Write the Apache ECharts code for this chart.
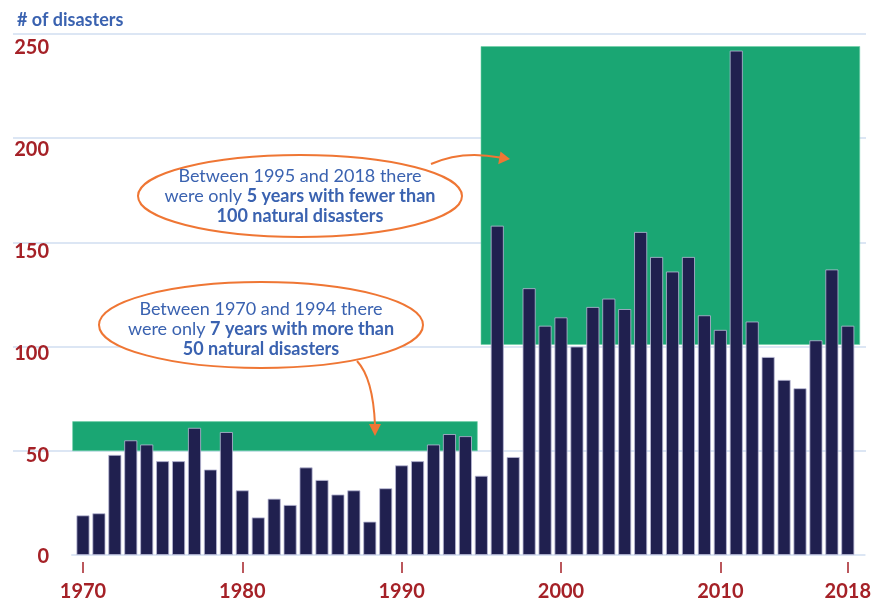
<!DOCTYPE html>
<html>
<head>
<meta charset="utf-8">
<script src="https://cdn.jsdelivr.net/npm/echarts@6/dist/echarts.min.js"></script>
<style>
  html, body { margin: 0; padding: 0; background: #ffffff; }
  #chart { width: 874px; height: 602px; }
</style>
</head>
<body>
<div id="chart"></div>
<script>
// Number of natural disasters per year
const years = [1970,1971,1972,1973,1974,1975,1976,1977,1978,1979,
               1980,1981,1982,1983,1984,1985,1986,1987,1988,1989,
               1990,1991,1992,1993,1994,1995,1996,1997,1998,1999,
               2000,2001,2002,2003,2004,2005,2006,2007,2008,2009,
               2010,2011,2012,2013,2014,2015,2016,2017,2018];
const disasters = [19,20,48,55,53,45,45,61,41,59,
                   31,18,27,24,42,36,29,31,16,32,
                   43,45,53,58,57,38,158,47,128,110,
                   114,100,119,123,118,155,143,136,143,115,
                   108,242,112,95,84,80,103,137,110];

// Highlighted periods: [yearFrom, yearTo, valueFrom, valueTo]
const highlightBands = [
  [1969.35, 1994.75, 50, 64],
  [1994.98, 2018.75, 101, 244]
];

const yTicks = [0, 50, 100, 150, 200, 250];
const xTickYears = [1970, 1980, 1990, 2000, 2010, 2018];

const RED = '#a52127';
const BLUE = '#3a62b0';
const ORANGE = '#ef7634';
const GRID_COLOR = '#dce6f4';
const FONT = 'Lato';

const xMin = 1969.311, xMax = 2019.06;

const chart = echarts.init(document.getElementById('chart'), null, { renderer: 'canvas' });

const richText = {
  n: { fontFamily: FONT, fontSize: 18, fill: BLUE, color: BLUE, lineHeight: 20 },
  b: { fontFamily: FONT, fontSize: 18, fontWeight: 'bold', fill: BLUE, color: BLUE, lineHeight: 20 }
};

const option = {
  backgroundColor: '#ffffff',
  animation: false,
  title: {
    text: '# of disasters',
    left: 12, top: 6,
    textStyle: { fontFamily: FONT, fontWeight: 'bold', fontSize: 18, color: BLUE }
  },
  grid: [
    { left: 72, right: 8, top: 34, bottom: 47 },   // bars and bands
    { left: 13, right: 8, top: 34, bottom: 47 },   // horizontal gridlines
    { left: 49, right: 8, top: 48, bottom: 45 }    // value labels
  ],
  xAxis: [
    {
      gridIndex: 0, type: 'value', min: xMin, max: xMax,
      axisLine: { show: true, lineStyle: { color: GRID_COLOR, width: 2 } },
      axisTick: { show: false }, axisLabel: { show: false }, splitLine: { show: false }
    },
    {
      gridIndex: 0, type: 'value', min: xMin, max: xMax, position: 'bottom', offset: 7,
      axisLine: { show: false },
      axisTick: { show: true, length: 11, customValues: xTickYears,
                  lineStyle: { color: RED, width: 1.5 } },
      axisLabel: { show: true, customValues: xTickYears, margin: 20,
                   fontFamily: FONT, fontWeight: 'bold', fontSize: 20, color: RED,
                   formatter: v => String(v) },
      splitLine: { show: false }
    },
    { gridIndex: 1, type: 'value', min: 0, max: 1, show: false },
    { gridIndex: 2, type: 'value', min: 0, max: 1, show: false }
  ],
  yAxis: [
    { gridIndex: 0, type: 'value', min: 0, max: 250, show: false },
    {
      gridIndex: 1, type: 'value', min: 0, max: 250, interval: 50,
      axisLine: { show: false }, axisTick: { show: false }, axisLabel: { show: false },
      splitLine: { show: true, lineStyle: {
        color: ['rgba(0,0,0,0)', GRID_COLOR, GRID_COLOR, GRID_COLOR, GRID_COLOR, GRID_COLOR],
        width: 2 } }
    },
    {
      gridIndex: 2, type: 'value', min: 0, max: 250, interval: 50,
      axisLine: { show: false }, axisTick: { show: false }, splitLine: { show: false },
      axisLabel: { show: true, margin: 0, fontFamily: FONT, fontWeight: 'bold',
                   fontSize: 20, color: RED,
                   customValues: yTicks }
    }
  ],
  series: [
    {
      type: 'custom',
      xAxisIndex: 0, yAxisIndex: 0,
      z: 1,
      data: highlightBands,
      renderItem: function (params, api) {
        const p0 = api.coord([api.value(0), api.value(3)]);
        const p1 = api.coord([api.value(1), api.value(2)]);
        return {
          type: 'rect',
          shape: { x: p0[0], y: p0[1], width: p1[0] - p0[0], height: p1[1] - p0[1] },
          style: { fill: '#1aa673', stroke: '#6fd0a8', lineWidth: 0.6 }
        };
      }
    },
    {
      type: 'bar',
      xAxisIndex: 0, yAxisIndex: 0,
      z: 3,
      barWidth: 13,
      data: years.map((y, i) => [y, disasters[i]]),
      itemStyle: { color: '#20204f', borderColor: '#b9b9d6', borderWidth: 0.8 }
    }
  ],
  graphic: [
    // annotation for 1995-2018
    {
      type: 'ellipse', z: 10,
      shape: { cx: 300, cy: 196, rx: 162, ry: 41 },
      style: { fill: '#ffffff', stroke: ORANGE, lineWidth: 2 }
    },
    {
      type: 'text', z: 11, x: 300, y: 196,
      style: {
        text: '{n|Between 1995 and 2018 there}\n{n|were only }{b|5 years with fewer than}\n{b|100 natural disasters}',
        align: 'center', verticalAlign: 'middle',
        fill: BLUE,
        rich: richText
      }
    },
    {
      type: 'bezierCurve', z: 10,
      shape: { x1: 431, y1: 164, x2: 500, y2: 157.5, cpx1: 462, cpy1: 150 },
      style: { stroke: ORANGE, lineWidth: 2, fill: null }
    },
    {
      type: 'polygon', z: 10,
      shape: { points: [[510, 159], [498.2, 164.3], [500.5, 151.5]] },
      style: { fill: ORANGE }
    },
    // annotation for 1970-1994
    {
      type: 'ellipse', z: 10,
      shape: { cx: 261, cy: 325, rx: 162, ry: 43 },
      style: { fill: '#ffffff', stroke: ORANGE, lineWidth: 2 }
    },
    {
      type: 'text', z: 11, x: 261, y: 329,
      style: {
        text: '{n|Between 1970 and 1994 there}\n{n|were only }{b|7 years with more than}\n{b|50 natural disasters}',
        align: 'center', verticalAlign: 'middle',
        fill: BLUE,
        rich: richText
      }
    },
    {
      type: 'bezierCurve', z: 10,
      shape: { x1: 357, y1: 361, x2: 375, y2: 425, cpx1: 373, cpy1: 378 },
      style: { stroke: ORANGE, lineWidth: 2, fill: null }
    },
    {
      type: 'polygon', z: 10,
      shape: { points: [[375, 436], [369, 424], [381, 424]] },
      style: { fill: ORANGE }
    }
  ]
};

chart.setOption(option);
</script>
</body>
</html>
